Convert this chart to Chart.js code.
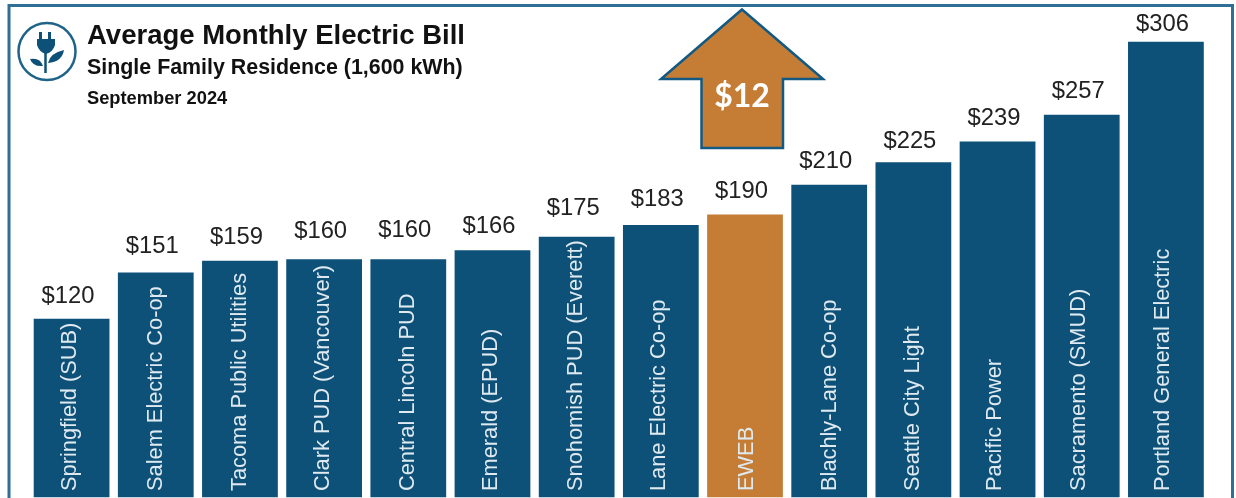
<!DOCTYPE html>
<html>
<head>
<meta charset="utf-8">
<style>
  html, body { margin: 0; padding: 0; background: #fff; }
  canvas { display: block; }
</style>
<script src="https://cdn.jsdelivr.net/npm/chart.js@4/dist/chart.umd.js"></script>
</head>
<body>
<canvas id="bill" width="1236" height="498"></canvas>
<script>
const utilities = [
  "Springfield (SUB)", "Salem Electric Co-op", "Tacoma Public Utilities",
  "Clark PUD (Vancouver)", "Central Lincoln PUD", "Emerald (EPUD)",
  "Snohomish PUD (Everett)", "Lane Electric Co-op", "EWEB",
  "Blachly-Lane Co-op", "Seattle City Light", "Pacific Power",
  "Sacramento (SMUD)", "Portland General Electric"
];
const monthlyBill = [120, 151, 159, 160, 160, 166, 175, 183, 190, 210, 225, 239, 257, 306];
const highlighted = "EWEB";
const increase = "$12";
const titleLines = [
  { text: "Average Monthly Electric Bill", size: 27.5, y: 36 },
  { text: "Single Family Residence (1,600 kWh)", size: 21.4, y: 68 },
  { text: "September 2024", size: 18.3, y: 99 }
];
// Hand-placed gap between each bar top and its dollar figure.
const figureLift = [22, 26.5, 23, 27.5, 29, 24, 28, 25, 23, 23, 21, 23, 23.5, 17.5];
// Hand-placed sideways shift of each utility name within its bar.
const nameShift = [-2, 0, 0, -1, 0, -1, -1, -2, 2, 1, 0, -3, -3, -3];

const NAVY = "#0d5078";
const ORANGE = "#c57d35";
const FRAME = "#2f6f96";
const SANS = '"Liberation Sans", Arial, sans-serif';

// Outer panel border: open at the bottom, where the page crops it.
const framePlugin = {
  id: "frame",
  beforeDatasetsDraw(chart) {
    const c = chart.ctx;
    c.save();
    c.strokeStyle = FRAME;
    c.lineWidth = 3;
    c.beginPath();
    c.moveTo(9, 498);
    c.lineTo(9, 5.5);
    c.lineTo(1232.5, 5.5);
    c.lineTo(1232.5, 498);
    c.stroke();
    c.restore();
  }
};

// Heading block with the plug-and-leaves badge.
const headingPlugin = {
  id: "heading",
  afterDraw(chart) {
    const c = chart.ctx;
    c.save();
    c.strokeStyle = "#1f6488";
    c.lineWidth = 2.5;
    c.beginPath();
    c.arc(47, 51.5, 28.5, 0, Math.PI * 2);
    c.stroke();

    c.fillStyle = NAVY;
    c.strokeStyle = NAVY;
    c.fillRect(39, 32, 3, 9);
    c.fillRect(48, 32, 3, 9);
    c.beginPath();
    c.moveTo(37, 39);
    c.lineTo(55, 39);
    c.lineTo(55, 45);
    c.quadraticCurveTo(53, 52, 46, 54);
    c.quadraticCurveTo(39, 52, 37, 45);
    c.closePath();
    c.fill();
    c.lineWidth = 2.5;
    c.beginPath();
    c.moveTo(45.5, 52);
    c.lineTo(45.5, 73);
    c.stroke();
    c.beginPath();
    c.moveTo(48, 63);
    c.quadraticCurveTo(50, 53, 64, 50);
    c.quadraticCurveTo(62, 62, 48, 63);
    c.fill();
    c.beginPath();
    c.moveTo(43, 66);
    c.quadraticCurveTo(40, 57, 30, 59);
    c.quadraticCurveTo(33, 67, 43, 66);
    c.fill();

    c.fillStyle = "#111";
    c.textAlign = "left";
    c.textBaseline = "middle";
    for (const line of titleLines) {
      c.font = "bold " + line.size + "px " + SANS;
      c.fillText(line.text, 87, line.y);
    }
    c.restore();
  }
};

// Up arrow carrying the size of the increase.
const arrowPlugin = {
  id: "arrow",
  afterDraw(chart) {
    const c = chart.ctx;
    c.save();
    c.fillStyle = ORANGE;
    c.strokeStyle = "#125a83";
    c.lineWidth = 2.5;
    c.lineJoin = "miter";
    c.beginPath();
    c.moveTo(742, 9.5);
    c.lineTo(823, 79);
    c.lineTo(783, 79);
    c.lineTo(783, 148);
    c.lineTo(701.5, 148);
    c.lineTo(701.5, 79);
    c.lineTo(661, 79);
    c.closePath();
    c.fill();
    c.stroke();
    c.fillStyle = "#fff";
    c.font = 'bold 32px Lato, sans-serif';
    c.textAlign = "center";
    c.textBaseline = "middle";
    c.fillText(increase, 742, 97);
    c.restore();
  }
};

// Dollar figure above each bar, utility name running up inside it.
const barTextPlugin = {
  id: "barText",
  afterDatasetsDraw(chart) {
    const c = chart.ctx;
    const bars = chart.getDatasetMeta(0).data;
    c.save();
    bars.forEach((bar, i) => {
      c.fillStyle = "#222";
      c.font = "23.8px " + SANS;
      c.textAlign = "center";
      c.textBaseline = "middle";
      c.fillText("$" + monthlyBill[i], bar.x - 3.5, bar.y - figureLift[i]);

      c.save();
      c.translate(bar.x + nameShift[i], 491);
      c.rotate(-Math.PI / 2);
      c.fillStyle = "#dfe9f0";
      c.font = "21.8px " + SANS;
      c.textAlign = "left";
      c.textBaseline = "middle";
      c.fillText(utilities[i], 0, 0);
      c.restore();
    });
    c.restore();
  }
};

new Chart(document.getElementById("bill"), {
  type: "bar",
  data: {
    labels: utilities,
    datasets: [{
      data: monthlyBill,
      backgroundColor: utilities.map(u => u === highlighted ? ORANGE : NAVY),
      categoryPercentage: 1,
      barPercentage: 0.9
    }]
  },
  options: {
    responsive: false,
    animation: false,
    layout: { padding: { left: 29.5, right: 28, top: 0, bottom: 0.5 } },
    plugins: { legend: { display: false }, tooltip: { enabled: false } },
    scales: {
      x: { display: false },
      y: { display: false, min: 0, max: 334 }
    }
  },
  plugins: [framePlugin, barTextPlugin, headingPlugin, arrowPlugin]
});
</script>
</body>
</html>
